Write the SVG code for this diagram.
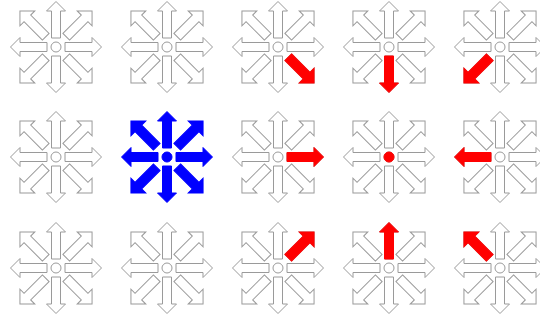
<svg xmlns="http://www.w3.org/2000/svg" xmlns:xlink="http://www.w3.org/1999/xlink" width="540" height="320" viewBox="0 0 540 320">
<style>
.off{fill:#ffffff;stroke:#9a9a9a;stroke-width:1}
.blue{fill:#0000ff;stroke:#0000ff;stroke-width:1}
.red{fill:#ff0000;stroke:#ff0000;stroke-width:1}
</style>
<defs>
<path id="ac" d="M9,-4.5H36V-9.5L45.5,0L36,9.5V4.5H9Z"/>
<path id="ad" d="M14.5,-4.7H40.5V-10.5L51,0L40.5,10.5V4.7H14.5Z"/>
<g id="pad">
<use href="#ac"/>
<use href="#ac" transform="rotate(90)"/>
<use href="#ac" transform="rotate(180)"/>
<use href="#ac" transform="rotate(270)"/>
<use href="#ad" transform="rotate(45)"/>
<use href="#ad" transform="rotate(135)"/>
<use href="#ad" transform="rotate(225)"/>
<use href="#ad" transform="rotate(315)"/>
<circle r="5"/>
</g>
</defs>
<rect width="540" height="320" fill="#ffffff"/>
<g id="r1c1"><use href="#pad" class="off" transform="translate(56,47)"/></g>
<g id="r1c2"><use href="#pad" class="off" transform="translate(167,47)"/></g>
<g id="r1c3"><use href="#pad" class="off" transform="translate(278,47)"/><use href="#ad" class="red" transform="translate(278,47) rotate(45)"/></g>
<g id="r1c4"><use href="#pad" class="off" transform="translate(389,47)"/><use href="#ac" class="red" transform="translate(389,47) rotate(90)"/></g>
<g id="r1c5"><use href="#pad" class="off" transform="translate(500,47)"/><use href="#ad" class="red" transform="translate(500,47) rotate(135)"/></g>
<g id="r2c1"><use href="#pad" class="off" transform="translate(56,157)"/></g>
<g id="r2c2"><use href="#pad" class="blue" transform="translate(167,157)"/></g>
<g id="r2c3"><use href="#pad" class="off" transform="translate(278,157)"/><use href="#ac" class="red" transform="translate(278,157)"/></g>
<g id="r2c4"><use href="#pad" class="off" transform="translate(389,157)"/><circle class="red" cx="389" cy="157" r="5"/></g>
<g id="r2c5"><use href="#pad" class="off" transform="translate(500,157)"/><use href="#ac" class="red" transform="translate(500,157) rotate(180)"/></g>
<g id="r3c1"><use href="#pad" class="off" transform="translate(56,268)"/></g>
<g id="r3c2"><use href="#pad" class="off" transform="translate(167,268)"/></g>
<g id="r3c3"><use href="#pad" class="off" transform="translate(278,268)"/><use href="#ad" class="red" transform="translate(278,268) rotate(315)"/></g>
<g id="r3c4"><use href="#pad" class="off" transform="translate(389,268)"/><use href="#ac" class="red" transform="translate(389,268) rotate(270)"/></g>
<g id="r3c5"><use href="#pad" class="off" transform="translate(500,268)"/><use href="#ad" class="red" transform="translate(500,268) rotate(225)"/></g>
</svg>
